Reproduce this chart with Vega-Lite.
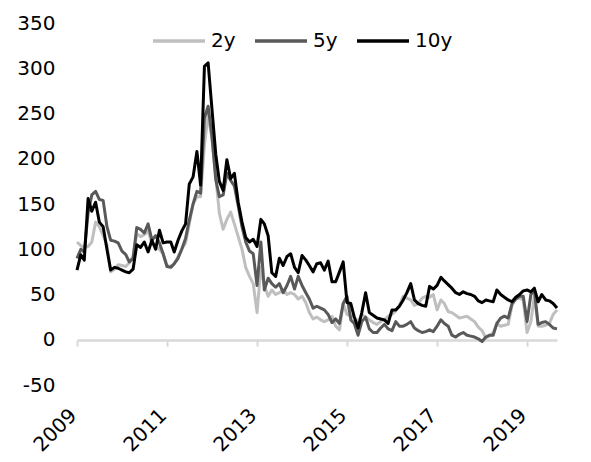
{
  "$schema": "https://vega.github.io/schema/vega-lite/v6.json",
  "width": 480,
  "height": 362,
  "autosize": {"type": "none"},
  "padding": {"left": 77, "top": 23, "right": 34, "bottom": 77},
  "background": "white",
  "config": {"view": {"stroke": null}, "font": "DejaVu Sans"},
  "layer": [
    {
      "data": {
        "values": [
{"d":"2009-01","s":"2y","v":108},{"d":"2009-02","s":"2y","v":104},{"d":"2009-03","s":"2y","v":102},{"d":"2009-04","s":"2y","v":103},{"d":"2009-05","s":"2y","v":108},{"d":"2009-06","s":"2y","v":130},{"d":"2009-07","s":"2y","v":125},{"d":"2009-08","s":"2y","v":115},{"d":"2009-09","s":"2y","v":105},{"d":"2009-10","s":"2y","v":75},{"d":"2009-11","s":"2y","v":78},{"d":"2009-12","s":"2y","v":83},
{"d":"2010-01","s":"2y","v":82},{"d":"2010-02","s":"2y","v":81},{"d":"2010-03","s":"2y","v":85},{"d":"2010-04","s":"2y","v":92},{"d":"2010-05","s":"2y","v":117},{"d":"2010-06","s":"2y","v":114},{"d":"2010-07","s":"2y","v":116},{"d":"2010-08","s":"2y","v":120},{"d":"2010-09","s":"2y","v":106},{"d":"2010-10","s":"2y","v":103},{"d":"2010-11","s":"2y","v":100},{"d":"2010-12","s":"2y","v":95},
{"d":"2011-01","s":"2y","v":82},{"d":"2011-02","s":"2y","v":81},{"d":"2011-03","s":"2y","v":84},{"d":"2011-04","s":"2y","v":92},{"d":"2011-05","s":"2y","v":100},{"d":"2011-06","s":"2y","v":107},{"d":"2011-07","s":"2y","v":128},{"d":"2011-08","s":"2y","v":150},{"d":"2011-09","s":"2y","v":158},{"d":"2011-10","s":"2y","v":158},{"d":"2011-11","s":"2y","v":215},{"d":"2011-12","s":"2y","v":249},
{"d":"2012-01","s":"2y","v":222},{"d":"2012-02","s":"2y","v":180},{"d":"2012-03","s":"2y","v":140},{"d":"2012-04","s":"2y","v":122},{"d":"2012-05","s":"2y","v":133},{"d":"2012-06","s":"2y","v":141},{"d":"2012-07","s":"2y","v":128},{"d":"2012-08","s":"2y","v":114},{"d":"2012-09","s":"2y","v":100},{"d":"2012-10","s":"2y","v":80},{"d":"2012-11","s":"2y","v":70},{"d":"2012-12","s":"2y","v":62},
{"d":"2013-01","s":"2y","v":30},{"d":"2013-02","s":"2y","v":80},{"d":"2013-03","s":"2y","v":60},{"d":"2013-04","s":"2y","v":48},{"d":"2013-05","s":"2y","v":55},{"d":"2013-06","s":"2y","v":50},{"d":"2013-07","s":"2y","v":52},{"d":"2013-08","s":"2y","v":55},{"d":"2013-09","s":"2y","v":50},{"d":"2013-10","s":"2y","v":52},{"d":"2013-11","s":"2y","v":50},{"d":"2013-12","s":"2y","v":45},
{"d":"2014-01","s":"2y","v":48},{"d":"2014-02","s":"2y","v":41},{"d":"2014-03","s":"2y","v":30},{"d":"2014-04","s":"2y","v":23},{"d":"2014-05","s":"2y","v":25},{"d":"2014-06","s":"2y","v":22},{"d":"2014-07","s":"2y","v":20},{"d":"2014-08","s":"2y","v":22},{"d":"2014-09","s":"2y","v":26},{"d":"2014-10","s":"2y","v":15},{"d":"2014-11","s":"2y","v":11},{"d":"2014-12","s":"2y","v":40},
{"d":"2015-01","s":"2y","v":28},{"d":"2015-02","s":"2y","v":26},{"d":"2015-03","s":"2y","v":25},{"d":"2015-04","s":"2y","v":20},{"d":"2015-05","s":"2y","v":28},{"d":"2015-06","s":"2y","v":25},{"d":"2015-07","s":"2y","v":22},{"d":"2015-08","s":"2y","v":19},{"d":"2015-09","s":"2y","v":17},{"d":"2015-10","s":"2y","v":20},{"d":"2015-11","s":"2y","v":22},{"d":"2015-12","s":"2y","v":26},
{"d":"2016-01","s":"2y","v":28},{"d":"2016-02","s":"2y","v":32},{"d":"2016-03","s":"2y","v":38},{"d":"2016-04","s":"2y","v":48},{"d":"2016-05","s":"2y","v":46},{"d":"2016-06","s":"2y","v":44},{"d":"2016-07","s":"2y","v":38},{"d":"2016-08","s":"2y","v":40},{"d":"2016-09","s":"2y","v":46},{"d":"2016-10","s":"2y","v":48},{"d":"2016-11","s":"2y","v":47},{"d":"2016-12","s":"2y","v":50},
{"d":"2017-01","s":"2y","v":33},{"d":"2017-02","s":"2y","v":44},{"d":"2017-03","s":"2y","v":40},{"d":"2017-04","s":"2y","v":31},{"d":"2017-05","s":"2y","v":30},{"d":"2017-06","s":"2y","v":27},{"d":"2017-07","s":"2y","v":24},{"d":"2017-08","s":"2y","v":25},{"d":"2017-09","s":"2y","v":26},{"d":"2017-10","s":"2y","v":23},{"d":"2017-11","s":"2y","v":20},{"d":"2017-12","s":"2y","v":14},
{"d":"2018-01","s":"2y","v":10},{"d":"2018-02","s":"2y","v":2},{"d":"2018-03","s":"2y","v":4},{"d":"2018-04","s":"2y","v":8},{"d":"2018-05","s":"2y","v":18},{"d":"2018-06","s":"2y","v":15},{"d":"2018-07","s":"2y","v":16},{"d":"2018-08","s":"2y","v":17},{"d":"2018-09","s":"2y","v":38},{"d":"2018-10","s":"2y","v":45},{"d":"2018-11","s":"2y","v":46},{"d":"2018-12","s":"2y","v":44},
{"d":"2019-01","s":"2y","v":8},{"d":"2019-02","s":"2y","v":20},{"d":"2019-03","s":"2y","v":48},{"d":"2019-04","s":"2y","v":15},{"d":"2019-05","s":"2y","v":15},{"d":"2019-06","s":"2y","v":16},{"d":"2019-07","s":"2y","v":18},{"d":"2019-08","s":"2y","v":28},{"d":"2019-09","s":"2y","v":33},
{"d":"2009-01","s":"5y","v":90},{"d":"2009-02","s":"5y","v":100},{"d":"2009-03","s":"5y","v":97},{"d":"2009-04","s":"5y","v":140},{"d":"2009-05","s":"5y","v":160},{"d":"2009-06","s":"5y","v":164},{"d":"2009-07","s":"5y","v":155},{"d":"2009-08","s":"5y","v":154},{"d":"2009-09","s":"5y","v":125},{"d":"2009-10","s":"5y","v":110},{"d":"2009-11","s":"5y","v":109},{"d":"2009-12","s":"5y","v":107},
{"d":"2010-01","s":"5y","v":98},{"d":"2010-02","s":"5y","v":94},{"d":"2010-03","s":"5y","v":86},{"d":"2010-04","s":"5y","v":90},{"d":"2010-05","s":"5y","v":124},{"d":"2010-06","s":"5y","v":122},{"d":"2010-07","s":"5y","v":118},{"d":"2010-08","s":"5y","v":128},{"d":"2010-09","s":"5y","v":110},{"d":"2010-10","s":"5y","v":115},{"d":"2010-11","s":"5y","v":107},{"d":"2010-12","s":"5y","v":95},
{"d":"2011-01","s":"5y","v":81},{"d":"2011-02","s":"5y","v":80},{"d":"2011-03","s":"5y","v":84},{"d":"2011-04","s":"5y","v":90},{"d":"2011-05","s":"5y","v":100},{"d":"2011-06","s":"5y","v":112},{"d":"2011-07","s":"5y","v":132},{"d":"2011-08","s":"5y","v":150},{"d":"2011-09","s":"5y","v":164},{"d":"2011-10","s":"5y","v":162},{"d":"2011-11","s":"5y","v":245},{"d":"2011-12","s":"5y","v":258},
{"d":"2012-01","s":"5y","v":225},{"d":"2012-02","s":"5y","v":177},{"d":"2012-03","s":"5y","v":158},{"d":"2012-04","s":"5y","v":160},{"d":"2012-05","s":"5y","v":184},{"d":"2012-06","s":"5y","v":176},{"d":"2012-07","s":"5y","v":170},{"d":"2012-08","s":"5y","v":148},{"d":"2012-09","s":"5y","v":125},{"d":"2012-10","s":"5y","v":108},{"d":"2012-11","s":"5y","v":98},{"d":"2012-12","s":"5y","v":95},
{"d":"2013-01","s":"5y","v":60},{"d":"2013-02","s":"5y","v":108},{"d":"2013-03","s":"5y","v":55},{"d":"2013-04","s":"5y","v":68},{"d":"2013-05","s":"5y","v":62},{"d":"2013-06","s":"5y","v":58},{"d":"2013-07","s":"5y","v":62},{"d":"2013-08","s":"5y","v":52},{"d":"2013-09","s":"5y","v":60},{"d":"2013-10","s":"5y","v":70},{"d":"2013-11","s":"5y","v":56},{"d":"2013-12","s":"5y","v":70},
{"d":"2014-01","s":"5y","v":60},{"d":"2014-02","s":"5y","v":52},{"d":"2014-03","s":"5y","v":45},{"d":"2014-04","s":"5y","v":35},{"d":"2014-05","s":"5y","v":37},{"d":"2014-06","s":"5y","v":35},{"d":"2014-07","s":"5y","v":33},{"d":"2014-08","s":"5y","v":28},{"d":"2014-09","s":"5y","v":19},{"d":"2014-10","s":"5y","v":23},{"d":"2014-11","s":"5y","v":18},{"d":"2014-12","s":"5y","v":40},
{"d":"2015-01","s":"5y","v":48},{"d":"2015-02","s":"5y","v":22},{"d":"2015-03","s":"5y","v":18},{"d":"2015-04","s":"5y","v":5},{"d":"2015-05","s":"5y","v":20},{"d":"2015-06","s":"5y","v":25},{"d":"2015-07","s":"5y","v":12},{"d":"2015-08","s":"5y","v":8},{"d":"2015-09","s":"5y","v":8},{"d":"2015-10","s":"5y","v":13},{"d":"2015-11","s":"5y","v":17},{"d":"2015-12","s":"5y","v":12},
{"d":"2016-01","s":"5y","v":10},{"d":"2016-02","s":"5y","v":20},{"d":"2016-03","s":"5y","v":15},{"d":"2016-04","s":"5y","v":15},{"d":"2016-05","s":"5y","v":17},{"d":"2016-06","s":"5y","v":20},{"d":"2016-07","s":"5y","v":13},{"d":"2016-08","s":"5y","v":10},{"d":"2016-09","s":"5y","v":8},{"d":"2016-10","s":"5y","v":9},{"d":"2016-11","s":"5y","v":11},{"d":"2016-12","s":"5y","v":9},
{"d":"2017-01","s":"5y","v":15},{"d":"2017-02","s":"5y","v":22},{"d":"2017-03","s":"5y","v":18},{"d":"2017-04","s":"5y","v":15},{"d":"2017-05","s":"5y","v":5},{"d":"2017-06","s":"5y","v":3},{"d":"2017-07","s":"5y","v":6},{"d":"2017-08","s":"5y","v":8},{"d":"2017-09","s":"5y","v":5},{"d":"2017-10","s":"5y","v":4},{"d":"2017-11","s":"5y","v":3},{"d":"2017-12","s":"5y","v":1},
{"d":"2018-01","s":"5y","v":-2},{"d":"2018-02","s":"5y","v":3},{"d":"2018-03","s":"5y","v":5},{"d":"2018-04","s":"5y","v":5},{"d":"2018-05","s":"5y","v":18},{"d":"2018-06","s":"5y","v":24},{"d":"2018-07","s":"5y","v":26},{"d":"2018-08","s":"5y","v":24},{"d":"2018-09","s":"5y","v":40},{"d":"2018-10","s":"5y","v":45},{"d":"2018-11","s":"5y","v":48},{"d":"2018-12","s":"5y","v":48},
{"d":"2019-01","s":"5y","v":20},{"d":"2019-02","s":"5y","v":50},{"d":"2019-03","s":"5y","v":55},{"d":"2019-04","s":"5y","v":17},{"d":"2019-05","s":"5y","v":19},{"d":"2019-06","s":"5y","v":20},{"d":"2019-07","s":"5y","v":17},{"d":"2019-08","s":"5y","v":13},{"d":"2019-09","s":"5y","v":12},
{"d":"2009-01","s":"10y","v":77},{"d":"2009-02","s":"10y","v":94},{"d":"2009-03","s":"10y","v":88},{"d":"2009-04","s":"10y","v":156},{"d":"2009-05","s":"10y","v":142},{"d":"2009-06","s":"10y","v":152},{"d":"2009-07","s":"10y","v":130},{"d":"2009-08","s":"10y","v":125},{"d":"2009-09","s":"10y","v":100},{"d":"2009-10","s":"10y","v":77},{"d":"2009-11","s":"10y","v":80},{"d":"2009-12","s":"10y","v":79},
{"d":"2010-01","s":"10y","v":77},{"d":"2010-02","s":"10y","v":75},{"d":"2010-03","s":"10y","v":74},{"d":"2010-04","s":"10y","v":78},{"d":"2010-05","s":"10y","v":105},{"d":"2010-06","s":"10y","v":102},{"d":"2010-07","s":"10y","v":108},{"d":"2010-08","s":"10y","v":97},{"d":"2010-09","s":"10y","v":110},{"d":"2010-10","s":"10y","v":100},{"d":"2010-11","s":"10y","v":121},{"d":"2010-12","s":"10y","v":107},
{"d":"2011-01","s":"10y","v":108},{"d":"2011-02","s":"10y","v":108},{"d":"2011-03","s":"10y","v":97},{"d":"2011-04","s":"10y","v":110},{"d":"2011-05","s":"10y","v":120},{"d":"2011-06","s":"10y","v":128},{"d":"2011-07","s":"10y","v":172},{"d":"2011-08","s":"10y","v":180},{"d":"2011-09","s":"10y","v":208},{"d":"2011-10","s":"10y","v":171},{"d":"2011-11","s":"10y","v":302},{"d":"2011-12","s":"10y","v":306},
{"d":"2012-01","s":"10y","v":255},{"d":"2012-02","s":"10y","v":205},{"d":"2012-03","s":"10y","v":175},{"d":"2012-04","s":"10y","v":165},{"d":"2012-05","s":"10y","v":199},{"d":"2012-06","s":"10y","v":178},{"d":"2012-07","s":"10y","v":184},{"d":"2012-08","s":"10y","v":152},{"d":"2012-09","s":"10y","v":130},{"d":"2012-10","s":"10y","v":113},{"d":"2012-11","s":"10y","v":108},{"d":"2012-12","s":"10y","v":111},
{"d":"2013-01","s":"10y","v":103},{"d":"2013-02","s":"10y","v":133},{"d":"2013-03","s":"10y","v":128},{"d":"2013-04","s":"10y","v":115},{"d":"2013-05","s":"10y","v":74},{"d":"2013-06","s":"10y","v":70},{"d":"2013-07","s":"10y","v":90},{"d":"2013-08","s":"10y","v":82},{"d":"2013-09","s":"10y","v":92},{"d":"2013-10","s":"10y","v":95},{"d":"2013-11","s":"10y","v":80},{"d":"2013-12","s":"10y","v":74},
{"d":"2014-01","s":"10y","v":93},{"d":"2014-02","s":"10y","v":88},{"d":"2014-03","s":"10y","v":82},{"d":"2014-04","s":"10y","v":75},{"d":"2014-05","s":"10y","v":84},{"d":"2014-06","s":"10y","v":85},{"d":"2014-07","s":"10y","v":77},{"d":"2014-08","s":"10y","v":87},{"d":"2014-09","s":"10y","v":64},{"d":"2014-10","s":"10y","v":64},{"d":"2014-11","s":"10y","v":75},{"d":"2014-12","s":"10y","v":86},
{"d":"2015-01","s":"10y","v":41},{"d":"2015-02","s":"10y","v":40},{"d":"2015-03","s":"10y","v":25},{"d":"2015-04","s":"10y","v":13},{"d":"2015-05","s":"10y","v":30},{"d":"2015-06","s":"10y","v":52},{"d":"2015-07","s":"10y","v":30},{"d":"2015-08","s":"10y","v":27},{"d":"2015-09","s":"10y","v":24},{"d":"2015-10","s":"10y","v":23},{"d":"2015-11","s":"10y","v":22},{"d":"2015-12","s":"10y","v":18},
{"d":"2016-01","s":"10y","v":33},{"d":"2016-02","s":"10y","v":33},{"d":"2016-03","s":"10y","v":37},{"d":"2016-04","s":"10y","v":44},{"d":"2016-05","s":"10y","v":52},{"d":"2016-06","s":"10y","v":62},{"d":"2016-07","s":"10y","v":44},{"d":"2016-08","s":"10y","v":40},{"d":"2016-09","s":"10y","v":38},{"d":"2016-10","s":"10y","v":37},{"d":"2016-11","s":"10y","v":59},{"d":"2016-12","s":"10y","v":56},
{"d":"2017-01","s":"10y","v":60},{"d":"2017-02","s":"10y","v":69},{"d":"2017-03","s":"10y","v":65},{"d":"2017-04","s":"10y","v":61},{"d":"2017-05","s":"10y","v":57},{"d":"2017-06","s":"10y","v":52},{"d":"2017-07","s":"10y","v":50},{"d":"2017-08","s":"10y","v":53},{"d":"2017-09","s":"10y","v":51},{"d":"2017-10","s":"10y","v":50},{"d":"2017-11","s":"10y","v":48},{"d":"2017-12","s":"10y","v":43},
{"d":"2018-01","s":"10y","v":41},{"d":"2018-02","s":"10y","v":44},{"d":"2018-03","s":"10y","v":43},{"d":"2018-04","s":"10y","v":42},{"d":"2018-05","s":"10y","v":55},{"d":"2018-06","s":"10y","v":50},{"d":"2018-07","s":"10y","v":47},{"d":"2018-08","s":"10y","v":44},{"d":"2018-09","s":"10y","v":42},{"d":"2018-10","s":"10y","v":47},{"d":"2018-11","s":"10y","v":50},{"d":"2018-12","s":"10y","v":54},
{"d":"2019-01","s":"10y","v":55},{"d":"2019-02","s":"10y","v":53},{"d":"2019-03","s":"10y","v":57},{"d":"2019-04","s":"10y","v":42},{"d":"2019-05","s":"10y","v":50},{"d":"2019-06","s":"10y","v":44},{"d":"2019-07","s":"10y","v":43},{"d":"2019-08","s":"10y","v":40},{"d":"2019-09","s":"10y","v":35}
        ]
      },
      "mark": {"type": "line", "strokeWidth": 3, "strokeJoin": "round"},
      "encoding": {
        "x": {
          "field": "d", "type": "temporal", "title": null,
          "scale": {"domain": [1230768000000, 1567296000000]},
          "axis": {
            "values": [1230768000000, 1293840000000, 1356998400000, 1420070400000, 1483228800000, 1546300800000],
            "offset": -45,
            "domainColor": "#d9d9d9", "domainWidth": 2.5,
            "tickColor": "#d9d9d9", "tickWidth": 2, "tickSize": 6,
            "grid": false, "labels": false
          }
        },
        "y": {
          "field": "v", "type": "quantitative", "title": null,
          "scale": {"domain": [-50, 350], "nice": false},
          "axis": {
            "values": [-50, 0, 50, 100, 150, 200, 250, 300, 350],
            "domain": false, "ticks": false, "grid": false, "labelPadding": 22,
            "labelExpr": "replace(datum.label, '\u2212', '-')",
            "labelFont": "DejaVu Sans", "labelFontSize": 20, "labelColor": "#000000"
          }
        },
        "color": {
          "field": "s", "type": "nominal",
          "scale": {"domain": ["2y", "5y", "10y"], "range": ["#BFBFBF", "#595959", "#000000"]},
          "legend": {
            "orient": "none", "legendX": 74, "legendY": -10, "direction": "horizontal", "title": null,
            "symbolType": "stroke", "symbolSize": 2704, "symbolStrokeWidth": 3.5,
            "labelFont": "DejaVu Sans", "labelFontSize": 20, "labelColor": "#000000", "labelOffset": 4,
            "columnPadding": 12, "padding": 0
          }
        }
      }
    },
    {
      "data": {
        "values": [
          {"d": "2009-01", "lab": "2009"}, {"d": "2011-01", "lab": "2011"}, {"d": "2013-01", "lab": "2013"},
          {"d": "2015-01", "lab": "2015"}, {"d": "2017-01", "lab": "2017"}, {"d": "2019-01", "lab": "2019"}
        ]
      },
      "mark": {"type": "text", "angle": 315, "align": "right", "baseline": "top", "font": "DejaVu Sans", "fontSize": 20, "color": "#000000", "dx": -13, "dy": -2},
      "encoding": {
        "x": {"field": "d", "type": "temporal"},
        "y": {"datum": -64},
        "text": {"field": "lab"}
      }
    }
  ]
}
